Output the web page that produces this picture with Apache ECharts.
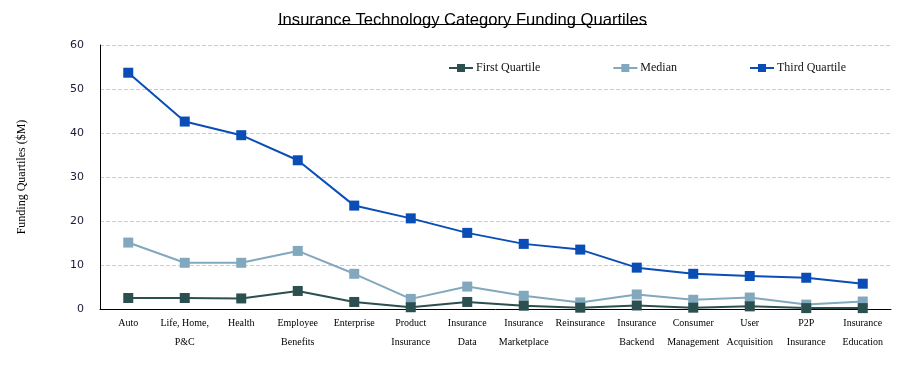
<!DOCTYPE html>
<html>
<head>
<meta charset="utf-8">
<script src="https://cdn.jsdelivr.net/npm/echarts@6/dist/echarts.min.js"></script>
<style>html,body{margin:0;padding:0;background:#fff;}#c{width:918px;height:381px;}</style>
</head>
<body>
<div id="c"></div>
<script>
var categories = ["Auto", "Life, Home,\nP&C", "Health", "Employee\nBenefits", "Enterprise", "Product\nInsurance", "Insurance\nData", "Insurance\nMarketplace", "Reinsurance", "Insurance\nBackend", "Consumer\nManagement", "User\nAcquisition", "P2P\nInsurance", "Insurance\nEducation"];
var firstQuartile = [2.5, 2.5, 2.4, 4.1, 1.6, 0.4, 1.6, 0.75, 0.3, 0.8, 0.3, 0.6, 0.2, 0.2];
var median = [15.1, 10.5, 10.5, 13.2, 8.0, 2.3, 5.1, 3.0, 1.5, 3.3, 2.1, 2.6, 1.0, 1.7];
var thirdQuartile = [53.7, 42.6, 39.5, 33.8, 23.5, 20.6, 17.3, 14.8, 13.5, 9.4, 8.0, 7.5, 7.1, 5.75];
var yTicks = [0, 10, 20, 30, 40, 50, 60];

var serif = '"Liberation Serif", "DejaVu Serif", serif';
var chart = echarts.init(document.getElementById('c'));
function ser(name, data, color) {
  return {
    name: name, type: 'line', data: data,
    symbol: 'rect', symbolSize: 10,
    lineStyle: { color: color, width: 2 },
    itemStyle: { color: color },
    clip: false
  };
}
chart.setOption({
  animation: false,
  title: {
    text: 'Insurance Technology Category Funding Quartiles',
    left: 273, top: 7,
    textStyle: { fontFamily: '"Liberation Sans", Arial, sans-serif', fontSize: 16.6, fontWeight: 'normal', color: '#000' }
  },
  graphic: [{
    type: 'line', shape: { x1: 278, y1: 24.5, x2: 647, y2: 24.5 },
    style: { stroke: '#000', lineWidth: 1 }
  }],
  legend: {
    data: ['First Quartile', 'Median', 'Third Quartile'],
    left: 443, top: 57,
    itemGap: 72, itemWidth: 24, itemHeight: 10,
    textStyle: { fontFamily: serif, fontSize: 12, color: '#111', padding: [0, 0, 6, -2] }
  },
  grid: { left: 100, right: 27, top: 45, bottom: 72 },
  xAxis: {
    type: 'category', data: categories, boundaryGap: true,
    axisLine: { lineStyle: { color: '#000', width: 1 } },
    axisTick: { show: false },
    axisLabel: { interval: 0, fontFamily: serif, fontSize: 10, color: '#000', lineHeight: 19, margin: 5 }
  },
  yAxis: {
    type: 'value', min: 0, max: 60, interval: 10,
    name: 'Funding Quartiles ($M)', nameLocation: 'middle', nameGap: 72,
    nameTextStyle: { fontFamily: serif, fontSize: 12, color: '#000' },
    axisLine: { show: true, lineStyle: { color: '#000', width: 1 } },
    axisTick: { show: false },
    axisLabel: {
      margin: 16, fontFamily: '"DejaVu Sans", Verdana, sans-serif', fontSize: 11, color: '#1a1a33',
      padding: [0, 0, 7, 0],
      formatter: function (v) { return yTicks.indexOf(v) >= 0 ? String(v) : ''; }
    },
    splitLine: { lineStyle: { color: '#cccccc', type: 'dashed', width: 1 } }
  },
  series: [
    ser('Third Quartile', thirdQuartile, '#0a4db6'),
    ser('Median', median, '#82a8be'),
    ser('First Quartile', firstQuartile, '#2c4f4f')
  ]
});
</script>
</body>
</html>
